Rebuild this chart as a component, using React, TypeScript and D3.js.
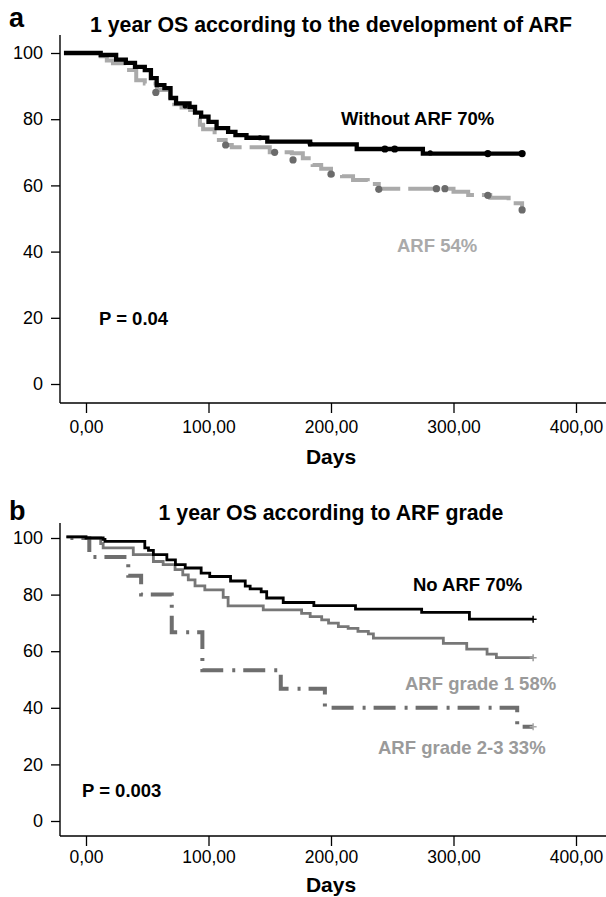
import React, { useEffect, useRef } from 'react'
import * as d3 from 'd3'

// axis ticks
const xTicks = [0, 100, 200, 300, 400]
const xTickLabels = ['0,00', '100,00', '200,00', '300,00', '400,00']
const yTicks = [0, 20, 40, 60, 80, 100]

// panel a: without ARF
const noArfADays = [-18, 12, 24.6, 32.5, 40, 48, 53, 57.7, 64, 69, 73.5, 84.5, 89, 94, 100, 106.6, 116, 122, 131, 148, 183, 221, 275, 356]
const noArfASurv = [100, 99.4, 98, 97, 95.8, 94.8, 92.4, 90.3, 89.4, 86.4, 84.8, 83.7, 82, 80.8, 79.2, 77.3, 76.2, 75.2, 74.4, 73.2, 72.4, 71, 69.6, 69.6]
// panel a: ARF
const arfADays = [-18, 12, 17, 22, 33, 41, 48, 58, 68.6, 72, 78, 85, 89, 93, 95.6, 105, 114, 119, 150, 168, 177, 185, 192, 200, 209, 218, 230, 239, 300, 312, 330, 345, 356]
const arfASurv = [100, 99, 97.7, 96.9, 94.9, 91.8, 90.8, 88.8, 86, 84.5, 83.5, 82.8, 80.3, 78.3, 77, 73.7, 72.2, 71.5, 70, 69.7, 68.2, 66.2, 65, 63.4, 62.8, 61.6, 60.4, 59, 58.1, 57.1, 56.3, 54.6, 52.6]
// panel a censor marks
const noArfACensDays = [81, 142, 183, 244, 252, 281, 328, 356]
const noArfACensSurv = [84, 74.4, 72.6, 71, 71, 69.8, 69.6, 69.6]
const arfACensDays = [57, 114, 154, 169, 200, 239, 286, 293, 328, 356]
const arfACensSurv = [88.1, 72.2, 70, 67.7, 63.4, 58.8, 59, 59, 57, 52.6]

// panel b
const noArfBDays = [-16, 0, 14, 15.5, 48, 51, 55, 66, 73, 81, 94, 101, 118, 130, 134, 143, 147.5, 161, 186, 220, 274, 313, 365]
const noArfBSurv = [100.4, 100, 99.5, 98.8, 96.5, 95.6, 94.1, 92.3, 90.6, 89.4, 87.6, 86.4, 84.8, 83, 82, 81, 78.8, 77.2, 76.1, 74.9, 73.7, 71.3, 71.3]
const grade1Days = [-16, 0, 12, 14, 38.6, 55, 63, 72.7, 79, 83.5, 89, 97, 112, 116, 144.7, 176, 183, 192.4, 198, 206, 214, 222, 230.5, 234.6, 291.7, 310.8, 327.4, 335, 365]
const grade1Surv = [100.4, 100, 98, 96.5, 94.1, 91.7, 90.6, 88.8, 87, 85.2, 83.1, 81.7, 79, 76, 74.6, 73.4, 72.2, 71.1, 69.9, 68.7, 68.1, 67, 66.1, 64.6, 62.8, 60.7, 59, 57.7, 57.7]
const grade23Days = [-16, 2.7, 34.5, 45, 70, 95, 159, 195, 352, 365]
const grade23Surv = [100, 93.3, 86.7, 80, 66.7, 53.3, 46.7, 40, 33.3, 33.3]

const FONT = '"Liberation Sans", Arial, Helvetica, sans-serif'

const x = d3.scaleLinear().domain([0, 400]).range([86, 576])
const yA = d3.scaleLinear().domain([0, 100]).range([384, 53])
const yB = d3.scaleLinear().domain([0, 100]).range([821, 538])

const zip = (a: number[], b: number[]) => a.map((d, i) => [d, b[i]] as [number, number])

function Axes({ y, axisY, axisTop, xPad }: { y: d3.ScaleLinear<number, number>; axisY: number; axisTop: number; xPad: number }) {
  const ref = useRef<SVGGElement>(null)
  useEffect(() => {
    const g = d3.select(ref.current)
    g.selectAll('*').remove()

    const xa = g.append('g')
      .attr('transform', `translate(0,${axisY})`)
      .call(d3.axisBottom(x).tickValues(xTicks).tickFormat((d, i) => xTickLabels[i]).tickSize(10).tickPadding(xPad))
    xa.attr('font-size', 17.5).attr('font-family', FONT)
    xa.select('.domain').remove()
    xa.selectAll('line').attr('stroke-width', 1.3)

    const ya = g.append('g')
      .attr('transform', 'translate(60,0)')
      .call(d3.axisLeft(y).tickValues(yTicks).tickSize(9).tickPadding(8))
    ya.attr('font-size', 18).attr('font-family', FONT)
    ya.select('.domain').remove()
    ya.selectAll('line').attr('stroke-width', 1.3)

    // axis lines
    g.append('line').attr('x1', 60).attr('x2', 60).attr('y1', axisTop).attr('y2', axisY)
      .attr('stroke', '#000').attr('stroke-width', 1.4)
    g.append('line').attr('x1', 60).attr('x2', 606).attr('y1', axisY).attr('y2', axisY)
      .attr('stroke', '#000').attr('stroke-width', 1.4)
  }, [])
  return <g ref={ref} />
}

function stepPath(days: number[], surv: number[], y: d3.ScaleLinear<number, number>) {
  return d3.line<[number, number]>()
    .curve(d3.curveStepAfter)
    .x(d => x(d[0]))
    .y(d => y(d[1]))(zip(days, surv)) || ''
}

function plus(px: number, py: number) {
  return `M${px - 3.5},${py}h7M${px},${py - 3.5}v7`
}

export default function App() {
  const bold = { fontFamily: FONT, fontWeight: 700, fontSize: 18.5 }
  const big = { ...bold, fontSize: 21.3 }
  return (
    <svg width={606} height={897} style={{ position: 'absolute', left: 0, top: 0, background: '#fff' }}>
      {/* panel a */}
      <text x={9} y={27} style={{ ...bold, fontSize: 27 }}>a</text>
      <text x={331} y={32} textAnchor="middle" style={big}>1 year OS according to the development of ARF</text>
      <Axes y={yA} axisY={403} axisTop={35} xPad={8} />
      <path d={stepPath(arfADays, arfASurv, yA)} fill="none" stroke="#aaaaaa" strokeWidth={4} strokeDasharray="32 8" />
      {zip(arfACensDays, arfACensSurv).map((d, i) => (
        <circle key={'ac' + i} cx={x(d[0])} cy={yA(d[1])} r={3.6} fill="#6b6b6b" />
      ))}
      <path d={stepPath(noArfADays, noArfASurv, yA)} fill="none" stroke="#000" strokeWidth={4.3} />
      {zip(noArfACensDays, noArfACensSurv).map((d, i) => (
        <circle key={'nc' + i} cx={x(d[0])} cy={yA(d[1])} r={i === 0 || i === 1 || i === 2 || i === 5 ? 2.6 : 3.6} fill="#000" />
      ))}
      <text x={341} y={124.5} style={bold}>Without ARF 70%</text>
      <text x={397} y={251.5} style={{ ...bold, fill: '#aaaaaa' }}>ARF 54%</text>
      <text x={99} y={324.5} style={bold}>P = 0.04</text>
      <text x={331} y={464} textAnchor="middle" style={{ ...bold, fontSize: 21 }}>Days</text>

      {/* panel b */}
      <text x={9} y={520} style={{ ...bold, fontSize: 27 }}>b</text>
      <text x={331} y={520} textAnchor="middle" style={big}>1 year OS according to ARF grade</text>
      <Axes y={yB} axisY={836} axisTop={523} xPad={5} />
      <path d={stepPath(grade23Days, grade23Surv, yB)} fill="none" stroke="#6e6e6e" strokeWidth={4} strokeDasharray="22 9 3 8" strokeDashoffset={27} />
      <path d={plus(x(grade23Days[grade23Days.length - 1]), yB(grade23Surv[grade23Surv.length - 1]))} stroke="#aaaaaa" strokeWidth={1.5} />
      <path d={stepPath(grade1Days, grade1Surv, yB)} fill="none" stroke="#777777" strokeWidth={2.8} />
      <path d={plus(x(grade1Days[grade1Days.length - 1]), yB(grade1Surv[grade1Surv.length - 1]))} stroke="#999999" strokeWidth={1.5} />
      <path d={stepPath(noArfBDays, noArfBSurv, yB)} fill="none" stroke="#000" strokeWidth={2.8} />
      <path d={plus(x(noArfBDays[noArfBDays.length - 1]), yB(noArfBSurv[noArfBSurv.length - 1]))} stroke="#000" strokeWidth={1.5} />
      <text x={413} y={590.5} style={bold}>No ARF 70%</text>
      <text x={405} y={690} style={{ ...bold, fill: '#9a9a9a' }}>ARF grade 1 58%</text>
      <text x={378} y={754.3} style={{ ...bold, fill: '#9a9a9a' }}>ARF grade 2-3 33%</text>
      <text x={82} y={796.5} style={bold}>P = 0.003</text>
      <text x={331} y={892} textAnchor="middle" style={{ ...bold, fontSize: 21 }}>Days</text>
    </svg>
  )
}
